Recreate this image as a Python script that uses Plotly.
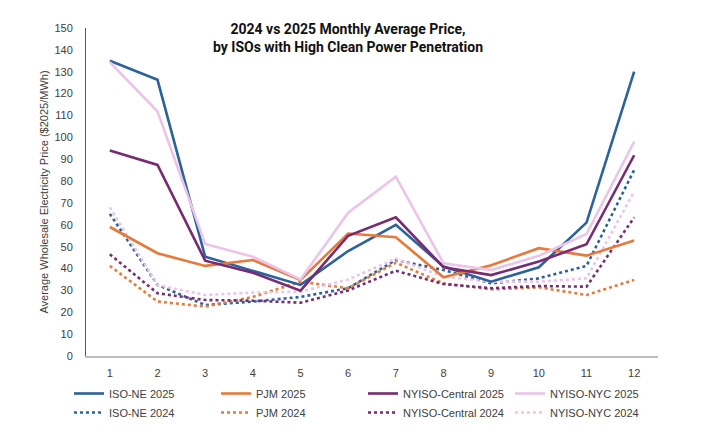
import plotly.graph_objects as go

months = list(range(1, 13))
tick_labels = [str(m) for m in months]

iso_ne_2025 = [135, 126.3, 45.4, 39, 32.5, 48, 60, 40.9, 34, 40.6, 61, 130]
pjm_2025 = [59, 47, 41.2, 43.9, 34.8, 56, 54.3, 36, 41.5, 49.3, 45.9, 52.8]
nyiso_c_2025 = [94, 87.4, 43.6, 38.1, 29.9, 55, 63.4, 40.6, 37, 43.2, 51.1, 91.8]
nyiso_nyc_2025 = [134.4, 111.8, 51.2, 45.4, 35, 65.5, 82, 42.4, 39.3, 45.8, 55.8, 98]
iso_ne_2024 = [65, 32.5, 23.3, 24.9, 27, 31, 43.9, 39.3, 33.2, 35.5, 41.2, 85.1]
pjm_2024 = [41.2, 24.9, 22.6, 27, 34, 31, 42.7, 33.2, 30.5, 31.4, 27.9, 34.8]
nyiso_c_2024 = [46.5, 28.7, 25.6, 25.3, 24.4, 30, 39, 32.9, 31, 32, 31.7, 63.4]
nyiso_nyc_2024 = [68, 32.5, 27.9, 29, 29.4, 35, 44.5, 36.3, 34, 34, 35.5, 75.2]

BLUE = "#2B629B"
ORANGE = "#E8793A"
PURPLE = "#782A73"
PINK = "#ECC4EA"

series = [
    ("ISO-NE 2025", iso_ne_2025, BLUE, "solid"),
    ("PJM 2025", pjm_2025, ORANGE, "solid"),
    ("NYISO-Central 2025", nyiso_c_2025, PURPLE, "solid"),
    ("NYISO-NYC 2025", nyiso_nyc_2025, PINK, "solid"),
    ("ISO-NE 2024", iso_ne_2024, BLUE, "dot"),
    ("PJM 2024", pjm_2024, ORANGE, "dot"),
    ("NYISO-Central 2024", nyiso_c_2024, PURPLE, "dot"),
    ("NYISO-NYC 2024", nyiso_nyc_2024, PINK, "dot"),
]

fig = go.Figure()
# draw dotted first so solid lines sit on top, but keep legend order
order = [4, 5, 6, 7, 0, 1, 2, 3]
for i in order:
    name, vals, color, dash = series[i]
    fig.add_trace(go.Scatter(
        x=months, y=vals, mode="lines", name=name,
        line=dict(color=color, width=2.6, dash=dash),
        legendrank=i + 1,
    ))

TITLE_FONT = "Liberation Sans Narrow, Roboto, Arial, sans-serif"
W, H = 703, 427

fig.update_layout(
    width=W, height=H,
    margin=dict(l=78, r=53, t=20, b=79, autoexpand=False),
    paper_bgcolor="white", plot_bgcolor="white",
    font=dict(family="Liberation Sans, Arial, sans-serif", size=11, color="#404040"),
    title=dict(
        text="<b>2024 vs 2025 Monthly Average Price,<br>by ISOs with High Clean Power Penetration</b>",
        x=340 / W, xanchor="center", y=1 - 26 / H, yanchor="top",
        font=dict(family=TITLE_FONT, size=14, color="#111111"),
    ),
    xaxis=dict(
        range=[0.5, 12.5], tickmode="array", tickvals=months, ticktext=tick_labels,
        showgrid=False, zeroline=False, showline=True, linecolor="#BFBFBF", linewidth=2,
        ticks="", ticklabelstandoff=6, tickfont=dict(size=11, color="#404040"),
    ),
    yaxis=dict(
        range=[0, 150], dtick=10, showgrid=False, zeroline=False,
        showline=True, linecolor="#595959", linewidth=1, ticks="",
        ticklabelstandoff=10,
        tickfont=dict(size=11, color="#404040"),
        title=dict(text="Average Wholesale Electricity Price ($2025/MWh)",
                   font=dict(size=11, color="#404040"), standoff=3),
    ),
    legend=dict(
        orientation="h", x=(69 - 86) / 572, xanchor="left",
        y=-(379 - 356) / 328, yanchor="top",
        entrywidth=102, entrywidthmode="pixels", itemwidth=30,
        font=dict(size=11, color="#404040"), tracegroupgap=0,
        bgcolor="rgba(0,0,0,0)",
    ),
)

fig.write_html("out.html")
